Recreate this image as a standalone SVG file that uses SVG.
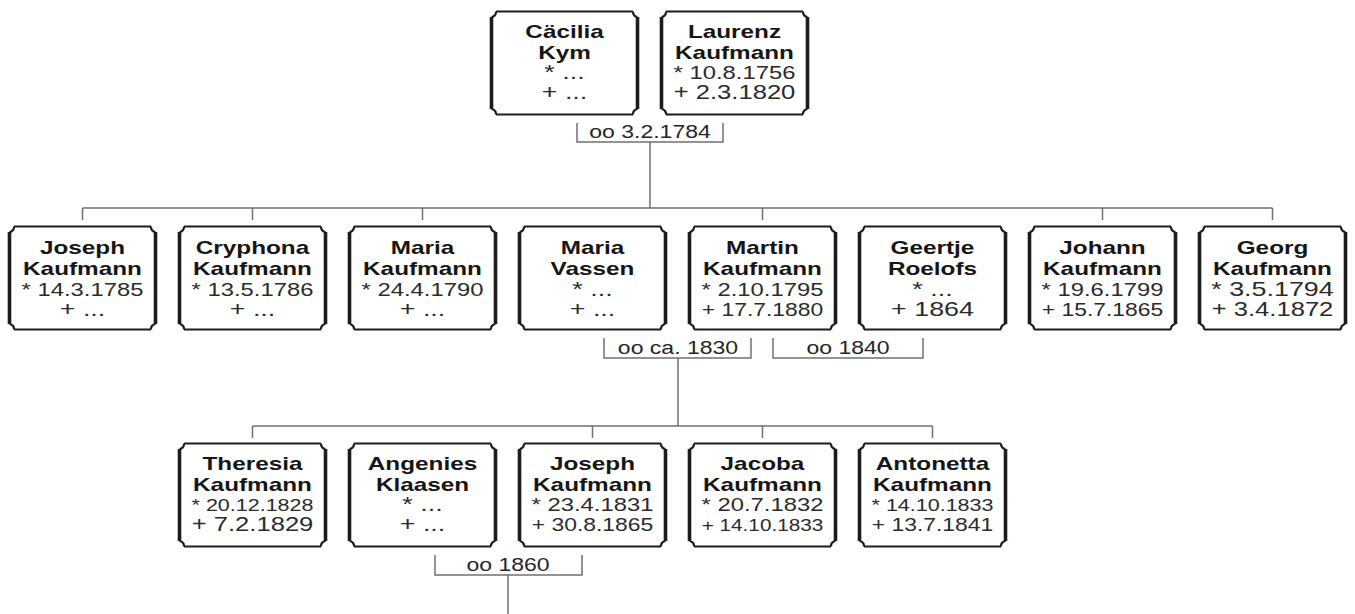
<svg xmlns="http://www.w3.org/2000/svg" xmlns:xlink="http://www.w3.org/1999/xlink" width="1355" height="614" viewBox="0 0 1355 614">
<style>
.n{font-family:"Liberation Sans",Arial,sans-serif;font-weight:bold;font-size:19px;fill:#161616;text-anchor:middle}
.d{font-family:"Liberation Sans",Arial,sans-serif;font-size:21px;fill:#2b2b2b;text-anchor:middle}
.d20{font-size:20px}.d19{font-size:18.6px}.d18{font-size:17.9px}.d17{font-size:16.8px}.d16{font-size:16.2px}
.m{font-family:"Liberation Sans",Arial,sans-serif;font-size:18px;fill:#262626;text-anchor:middle}
.c{fill:none;stroke:#707070;stroke-width:1.5}
.ft{fill:none;stroke:#1c1c1c;stroke-width:2.2}
.fs{fill:none;stroke:#1c1c1c;stroke-width:3.6}
</style>
<defs>
<g id="frame">
<rect x="2" y="1.5" width="147" height="103" fill="#fff"/>
<path class="ft" d="M7,1.5 H144 M7,104.5 H144 M7,1.5 A5,5 0 0 1 2.5,7 M144,1.5 A5,5 0 0 0 148.5,7 M2.5,99 A5,5 0 0 1 7,104.5 M144,104.5 A5,5 0 0 1 148.5,99"/>
<path class="fs" d="M2.5,7 V99 M148.5,7 V99"/>
</g>
</defs>
<rect width="1355" height="614" fill="#fff"/>
<g id="connectors">
<path class="c" d="M577,123 V142 H723 V123 M650,142 V208"/>
<path class="c" d="M82.5,208 H1272.5 M82.5,208 V220 M252.5,208 V220 M422.5,208 V220 M762.5,208 V220 M1102.5,208 V220 M1272.5,208 V220"/>
<path class="c" d="M604,338 V358 H751 V338 M678,358 V426"/>
<path class="c" d="M773,338 V358 H923 V338"/>
<path class="c" d="M252.5,426 H932.5 M252.5,426 V438 M592.5,426 V438 M762.5,426 V438 M932.5,426 V438"/>
<path class="c" d="M435,555 V575 H582 V555 M508,575 V614"/>
<text class="m" transform="translate(650,138) scale(1.28,1)">oo 3.2.1784</text>
<text class="m" transform="translate(678,354) scale(1.28,1)">oo ca. 1830</text>
<text class="m" transform="translate(848,354) scale(1.28,1)">oo 1840</text>
<text class="m" transform="translate(508,571) scale(1.28,1)">oo 1860</text>
</g>
<g id="n-caecilia" transform="translate(489,10)"><use href="#frame"/><g transform="translate(75.5,0) scale(1.28,1)"><text class="n" y="28">Cäcilia</text><text class="n" y="49">Kym</text><text class="d" y="69">* ...</text><text class="d" y="89">+ ...</text></g></g>
<g id="n-laurenz" transform="translate(659,10)"><use href="#frame"/><g transform="translate(75.5,0) scale(1.28,1)"><text class="n" y="28">Laurenz</text><text class="n" y="49">Kaufmann</text><text class="d d19" y="69">* 10.8.1756</text><text class="d d20" y="89">+ 2.3.1820</text></g></g>
<g id="n-joseph1" transform="translate(7,225)"><use href="#frame"/><g transform="translate(75.5,0) scale(1.28,1)"><text class="n" y="29">Joseph</text><text class="n" y="50">Kaufmann</text><text class="d d19" y="71">* 14.3.1785</text><text class="d" y="91">+ ...</text></g></g>
<g id="n-cryphona" transform="translate(177,225)"><use href="#frame"/><g transform="translate(75.5,0) scale(1.28,1)"><text class="n" y="29">Cryphona</text><text class="n" y="50">Kaufmann</text><text class="d d19" y="71">* 13.5.1786</text><text class="d" y="91">+ ...</text></g></g>
<g id="n-maria" transform="translate(347,225)"><use href="#frame"/><g transform="translate(75.5,0) scale(1.28,1)"><text class="n" y="29">Maria</text><text class="n" y="50">Kaufmann</text><text class="d d19" y="71">* 24.4.1790</text><text class="d" y="91">+ ...</text></g></g>
<g id="n-mariavassen" transform="translate(517,225)"><use href="#frame"/><g transform="translate(75.5,0) scale(1.28,1)"><text class="n" y="29">Maria</text><text class="n" y="50">Vassen</text><text class="d" y="71">* ...</text><text class="d" y="91">+ ...</text></g></g>
<g id="n-martin" transform="translate(687,225)"><use href="#frame"/><g transform="translate(75.5,0) scale(1.28,1)"><text class="n" y="29">Martin</text><text class="n" y="50">Kaufmann</text><text class="d d19" y="71">* 2.10.1795</text><text class="d d18" y="91">+ 17.7.1880</text></g></g>
<g id="n-geertje" transform="translate(857,225)"><use href="#frame"/><g transform="translate(75.5,0) scale(1.28,1)"><text class="n" y="29">Geertje</text><text class="n" y="50">Roelofs</text><text class="d" y="71">* ...</text><text class="d" y="91">+ 1864</text></g></g>
<g id="n-johann" transform="translate(1027,225)"><use href="#frame"/><g transform="translate(75.5,0) scale(1.28,1)"><text class="n" y="29">Johann</text><text class="n" y="50">Kaufmann</text><text class="d d19" y="71">* 19.6.1799</text><text class="d d18" y="91">+ 15.7.1865</text></g></g>
<g id="n-georg" transform="translate(1197,225)"><use href="#frame"/><g transform="translate(75.5,0) scale(1.28,1)"><text class="n" y="29">Georg</text><text class="n" y="50">Kaufmann</text><text class="d" y="71">* 3.5.1794</text><text class="d d20" y="91">+ 3.4.1872</text></g></g>
<g id="n-theresia" transform="translate(177,442)"><use href="#frame"/><g transform="translate(75.5,0) scale(1.28,1)"><text class="n" y="28">Theresia</text><text class="n" y="49">Kaufmann</text><text class="d d17" y="69">* 20.12.1828</text><text class="d d20" y="89">+ 7.2.1829</text></g></g>
<g id="n-angenies" transform="translate(347,442)"><use href="#frame"/><g transform="translate(75.5,0) scale(1.28,1)"><text class="n" y="28">Angenies</text><text class="n" y="49">Klaasen</text><text class="d" y="69">* ...</text><text class="d" y="89">+ ...</text></g></g>
<g id="n-joseph2" transform="translate(517,442)"><use href="#frame"/><g transform="translate(75.5,0) scale(1.28,1)"><text class="n" y="28">Joseph</text><text class="n" y="49">Kaufmann</text><text class="d d19" y="69">* 23.4.1831</text><text class="d d18" y="89">+ 30.8.1865</text></g></g>
<g id="n-jacoba" transform="translate(687,442)"><use href="#frame"/><g transform="translate(75.5,0) scale(1.28,1)"><text class="n" y="28">Jacoba</text><text class="n" y="49">Kaufmann</text><text class="d d19" y="69">* 20.7.1832</text><text class="d d16" y="89">+ 14.10.1833</text></g></g>
<g id="n-antonetta" transform="translate(857,442)"><use href="#frame"/><g transform="translate(75.5,0) scale(1.28,1)"><text class="n" y="28">Antonetta</text><text class="n" y="49">Kaufmann</text><text class="d d17" y="69">* 14.10.1833</text><text class="d d18" y="89">+ 13.7.1841</text></g></g>
</svg>
